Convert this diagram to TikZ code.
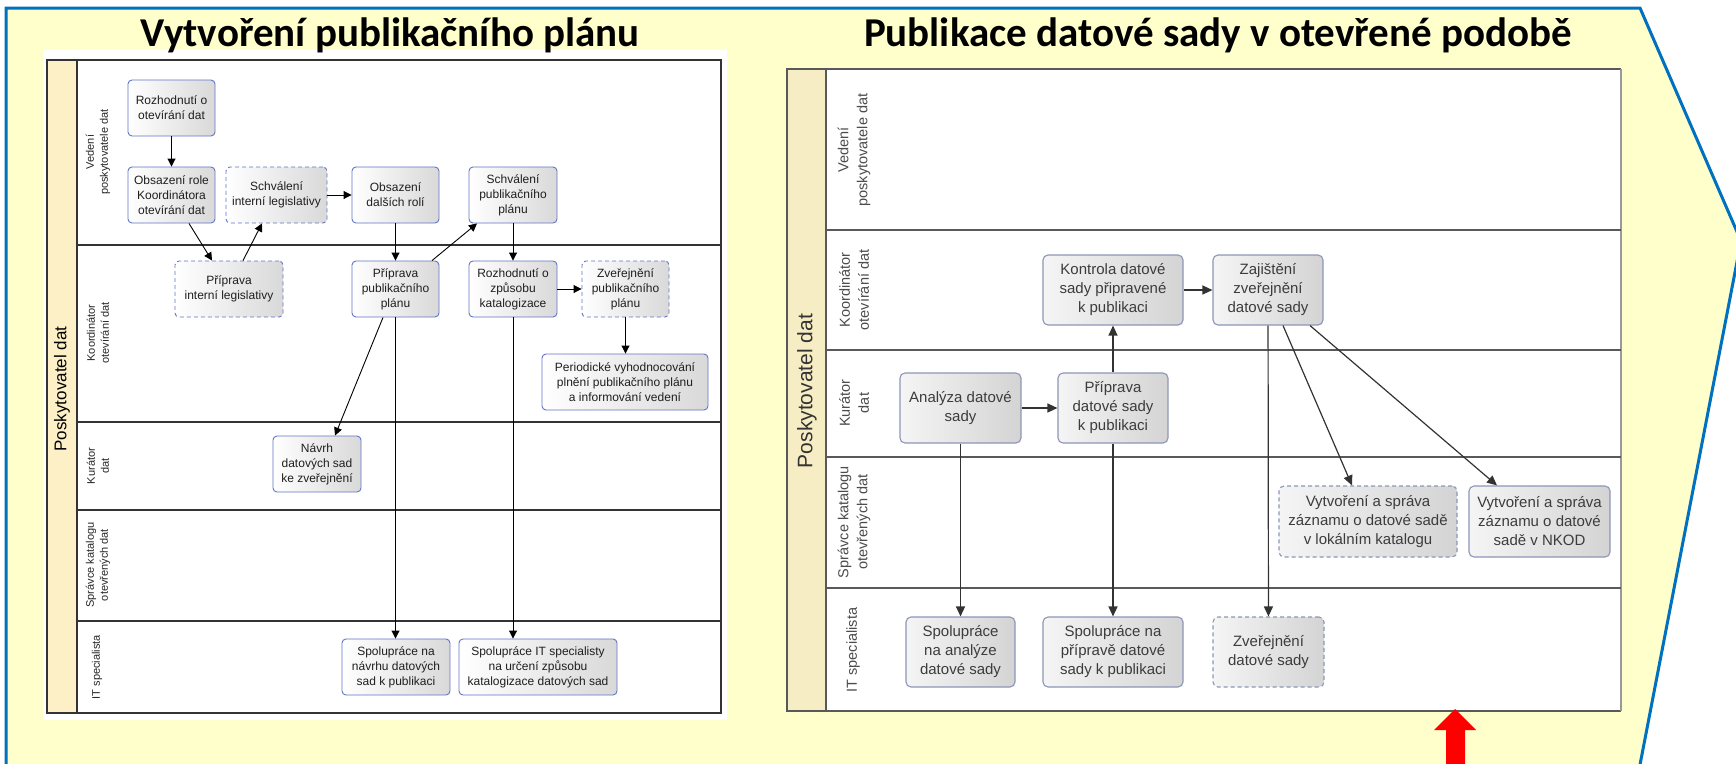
\documentclass[tikz,border=0pt]{standalone}
\usepackage{fontspec}
\setmainfont{Liberation Sans}
\newfontfamily\titlefont{Carlito}
\usetikzlibrary{arrows.meta}
\definecolor{yfill}{HTML}{FFFFCC}
\definecolor{bblue}{HTML}{0070C0}
\definecolor{lborder}{HTML}{6275C8}
\definecolor{rborder}{HTML}{8C96B8}
\definecolor{poolL}{HTML}{FDF0C6}
\definecolor{poolR}{HTML}{F6EDC4}
\definecolor{rtext}{HTML}{3C3C3C}
\tikzset{
  lbox/.style={draw=lborder, line width=0.9pt, rounded corners=4pt, left color=white, right color=black!15,
    font=\fontsize{12}{15}\selectfont, align=center, text=black!88, inner sep=0pt, minimum height=56pt},
  rbox/.style={draw=rborder, line width=1.1pt, rounded corners=5pt, left color=white!96!black, right color=black!17,
    font=\fontsize{15}{19}\selectfont, align=center, text=rtext, inner sep=0pt, minimum height=70pt},
  dashbox/.style={dash pattern=on 4pt off 3pt},
  larr/.style={draw=black, line width=0.9pt, -{Triangle[length=8pt,width=8pt]}},
  rarr/.style={draw=black!80, line width=1.2pt, -{Triangle[length=10pt,width=9pt]}},
  llabel/.style={rotate=90, align=center, font=\fontsize{11}{14}\selectfont, text=black!85},
  rlabel/.style={rotate=90, align=center, font=\fontsize{14.5}{19}\selectfont, text=black!70},
  lane/.style={draw=black!80, line width=1.1pt},
  rlane/.style={draw=black!65, line width=2pt},
  ttl/.style={font=\titlefont\bfseries\fontsize{41}{49}\selectfont, anchor=base}
}
\begin{document}
\begin{tikzpicture}[x=1pt,y=-1pt]
\useasboundingbox (0,0) rectangle (1736,763);
\clip (0,0) rectangle (1736,763);
\fill[white] (0,0) rectangle (1736,763);
% outer chevron
\draw[fill=yfill, draw=bblue, line width=3pt] (6,8) -- (1640,8) -- (1741,241) -- (1638,775) -- (6,775) -- cycle;

% ================= LEFT DIAGRAM =================
\fill[white] (43,50) rectangle (727,720);
\filldraw[fill=poolL, draw=black!80, line width=1.1pt] (47,60) rectangle (77,713);
\draw[lane] (47,60) rectangle (721,713);
\draw[lane] (77,245) -- (721,245);
\draw[lane] (77,422) -- (721,422);
\draw[lane] (77,510) -- (721,510);
\draw[lane] (77,621) -- (721,621);
\node[rotate=90, font=\fontsize{17}{20}\selectfont] (p1) at (62,389) {Poskytovatel dat};
\node[llabel] (l1) at (98,152) {Vedení\\poskytovatele dat};
\node[llabel] (l2) at (98,333) {Koordinátor\\otevírání dat};
\node[llabel] (l3) at (98,466) {Kurátor\\dat};
\node[llabel] (l4) at (98,565) {Správce katalogu\\otevřených dat};
\node[llabel] (l5) at (97,667) {IT specialista};

\node[lbox, minimum width=87pt] (A1) at (171.5,108) {Rozhodnutí o\\otevírání dat};
\node[lbox, minimum width=87pt] (A2) at (171.5,195) {Obsazení role\\Koordinátora\\otevírání dat};
\node[lbox, dashbox, minimum width=101pt] (A3) at (276.5,195) {Schválení\\interní legislativy};
\node[lbox, minimum width=87pt] (A4) at (395.5,195) {Obsazení\\dalších rolí};
\node[lbox, dashbox, minimum width=108pt] (A5) at (229,289) {Příprava\\interní legislativy};
\node[lbox, minimum width=87pt] (A6) at (395.5,289) {Příprava\\publikačního\\plánu};
\node[lbox, minimum width=88pt] (A7) at (513,195) {Schválení\\publikačního\\plánu};
\node[lbox, minimum width=88pt] (A8) at (513,289) {Rozhodnutí o\\způsobu\\katalogizace};
\node[lbox, dashbox, minimum width=87pt] (A9) at (625.5,289) {Zveřejnění\\publikačního\\plánu};
\node[lbox, minimum width=166pt] (A10) at (625,382) {Periodické vyhodnocování\\plnění publikačního plánu\\a informování vedení};
\node[lbox, minimum width=88pt] (A11) at (317,464) {Návrh\\datových sad\\ke zveřejnění};
\node[lbox, minimum width=108pt] (A12) at (396,667) {Spolupráce na\\návrhu datových\\sad k publikaci};
\node[lbox, minimum width=158pt] (A13) at (538,667) {Spolupráce IT specialisty\\na určení způsobu\\katalogizace datových sad};

\draw[larr] (A1) -- (A2);
\draw[larr] ([xshift=17.5pt]A2.south) -- ([xshift=-17pt]A5.north);
\draw[larr] ([xshift=14pt]A5.north) -- ([xshift=-14.5pt]A3.south);
\draw[larr] (A3) -- (A4);
\draw[larr] (A4) -- (A6);
\draw[larr] ([xshift=36.5pt]A6.north) -- ([xshift=-36pt]A7.south);
\draw[larr] (A7) -- (A8);
\draw[larr] (A8) -- (A9);
\draw[larr] (A9.south) -- (A9.south |- A10.north);
\draw[larr] ([xshift=-12.5pt]A6.south) -- ([xshift=18pt]A11.north);
\draw[larr] (A6.south) -- (A6.south |- A12.north);
\draw[larr] (A8.south) -- (A8.south |- A13.north);

% ================= RIGHT DIAGRAM =================
\fill[white] (787,69) rectangle (1621,711);
\filldraw[fill=poolR, draw=black!65, line width=1.5pt] (787,69) rectangle (826,711);
\draw[draw=black!65, line width=1.5pt] (826,69) -- (1621,69);
\draw[draw=black!65, line width=1.5pt] (826,711) -- (1621,711);
\draw[draw=black!40, line width=1.5pt] (1621,69) -- (1621,711);
\draw[rlane] (826,230) -- (1621,230);
\draw[rlane] (826,350) -- (1621,350);
\draw[rlane] (826,457) -- (1621,457);
\draw[rlane] (826,588) -- (1621,588);
\node[rotate=90, font=\fontsize{21}{24}\selectfont, text=black!80] (p2) at (807,391) {Poskytovatel dat};
\node[rlabel] (r1) at (854,150) {Vedení\\poskytovatele dat};
\node[rlabel] (r2) at (854,290) {Koordinátor\\otevírání dat};
\node[rlabel] (r3) at (854,403) {Kurátor\\dat};
\node[rlabel] (r4) at (854,522) {Správce katalogu\\otevřených dat};
\node[rlabel] (r5) at (853,650) {IT specialista};

\node[rbox, minimum width=140pt] (B1) at (1113,290) {Kontrola datové\\sady připravené\\k publikaci};
\node[rbox, minimum width=110pt] (B2) at (1268,290) {Zajištění\\zveřejnění\\datové sady};
\node[rbox, minimum width=121pt] (B3) at (960.5,408) {Analýza datové\\sady};
\node[rbox, minimum width=110pt] (B4) at (1113,408) {Příprava\\datové sady\\k publikaci};
\node[rbox, minimum width=109pt] (B5) at (960.5,652) {Spolupráce\\na analýze\\datové sady};
\node[rbox, minimum width=140pt] (B6) at (1113,652) {Spolupráce na\\přípravě datové\\sady k publikaci};
\node[rbox, dashbox, minimum width=111pt] (B7) at (1268.5,652) {Zveřejnění\\datové sady};
\node[rbox, dashbox, minimum width=178pt, minimum height=71pt] (B8) at (1368,521.5) {Vytvoření a správa\\záznamu o datové sadě\\v lokálním katalogu};
\node[rbox, minimum width=141pt, minimum height=71pt] (B9) at (1539.5,521.5) {Vytvoření a správa\\záznamu o datové\\sadě v NKOD};

\draw[rarr] (B3) -- (B4);
\draw[rarr] (B4) -- (B1);
\draw[rarr] (B1) -- (B2);
\draw[rarr] (B3) -- (B5);
\draw[rarr] (B4) -- (B6);
\draw[rarr] (B2) -- (B7);
\draw[rarr] ([xshift=15pt]B2.south) -- ([xshift=-16pt]B8.north);
\draw[rarr] ([xshift=42pt]B2.south) -- ([xshift=-42.5pt]B9.north);

% titles (on top)
\node[ttl] (t1) at (390,46) {Vytvoření publikačního plánu};
\node[ttl] (t2) at (1218,46) {Publikace datové sady v otevřené podobě};

% red arrow
\fill[red] (1446,770) -- (1446,730) -- (1434,730) -- (1455,709) -- (1476,730) -- (1465,730) -- (1465,770) -- cycle;
\end{tikzpicture}
\end{document}
